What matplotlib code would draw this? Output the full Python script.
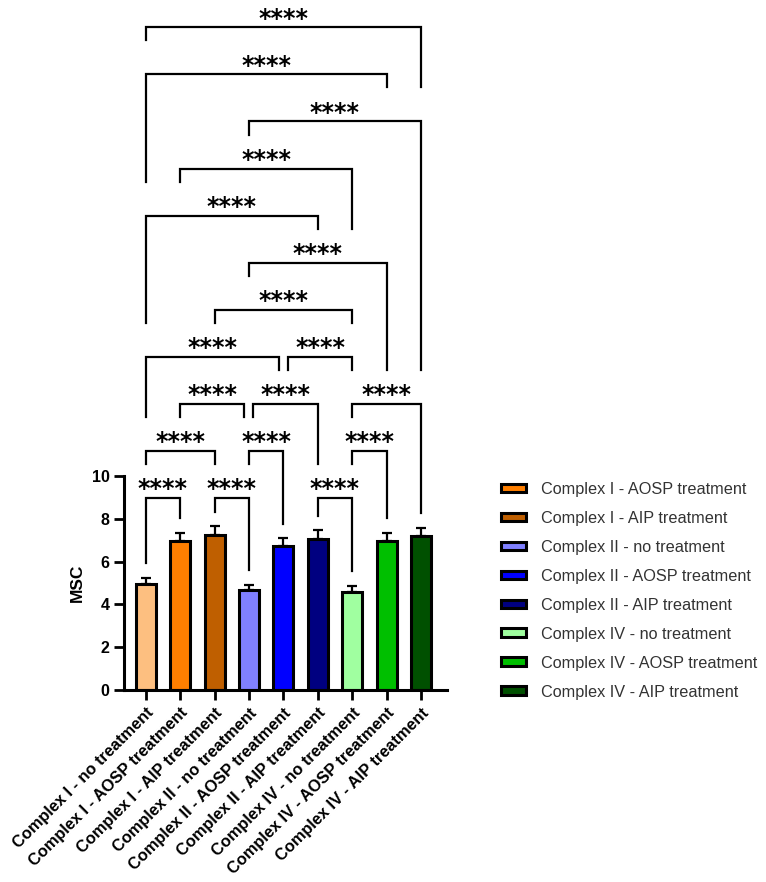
import numpy as np
import matplotlib.pyplot as plt

plt.rcParams['font.family'] = ['Liberation Sans', 'DejaVu Sans']

groups = ["Complex I - no treatment", "Complex I - AOSP treatment", "Complex I - AIP treatment",
          "Complex II - no treatment", "Complex II - AOSP treatment", "Complex II - AIP treatment",
          "Complex IV - no treatment", "Complex IV - AOSP treatment", "Complex IV - AIP treatment"]
msc = [4.95, 6.98, 7.25, 4.65, 6.75, 7.07, 4.6, 6.98, 7.18]
sem = [0.30, 0.37, 0.40, 0.27, 0.33, 0.40, 0.27, 0.37, 0.40]
colors = ["#FDBF80", "#FF7F00", "#BF5F00", "#8080FF", "#0000FF", "#000080",
          "#A0FFA0", "#00BF00", "#005000"]
# comparisons: (left bar, right bar, bracket row), all p < 0.0001
pairs = [(0, 1, 0), (2, 3, 0), (5, 6, 0),
         (0, 2, 1), (3, 4, 1), (6, 7, 1),
         (1, 3, 2), (3, 5, 2), (6, 8, 2),
         (0, 4, 3), (4, 6, 3),
         (2, 6, 4), (3, 7, 5), (0, 5, 6), (1, 6, 7),
         (3, 8, 8), (0, 7, 9), (0, 8, 10)]
signif = ["****"] * len(pairs)

fig = plt.figure(figsize=(7.66, 8.82), dpi=100)
ax = fig.add_axes([0.162, 0.2177, 0.4217, 0.2426])

x = np.arange(len(groups))
handles = []
for i in range(len(groups)):
    b = ax.bar(x[i], msc[i], width=0.58, color=colors[i], edgecolor='black',
               linewidth=2.2, label=groups[i], zorder=2)
    handles.append(b)
ax.errorbar(x, msc, yerr=[np.zeros(len(msc)), sem], fmt='none', ecolor='black',
            elinewidth=1.6, capsize=3.3, capthick=1.6, zorder=1)

ax.set_xlim(-0.63, 8.76)
ax.set_ylim(0, 10)
ax.set_yticks([0, 2, 4, 6, 8, 10])
ax.set_xticks(x)
ax.set_xticklabels(groups, rotation=45, ha='right', rotation_mode='anchor',
                   fontsize=11.8, fontweight='bold')
for lab in ax.get_yticklabels():
    lab.set_fontweight('bold')
    lab.set_fontsize(11.5)
ax.tick_params(axis='both', width=2, length=7, direction='out')
ax.tick_params(axis='x', pad=4)
ax.set_ylabel("MSC", fontsize=12.5, fontweight='bold', labelpad=5)
for s in ['top', 'right']:
    ax.spines[s].set_visible(False)
for s in ['left', 'bottom']:
    ax.spines[s].set_linewidth(2.2)

# significance brackets
base, step = 8.97, 2.2
shift = 0.13
tol = 0.2
counts = {}
for a, b, k in pairs:
    counts[(a, k)] = counts.get((a, k), 0) + 1
    counts[(b, k)] = counts.get((b, k), 0) + 1

spans = []
for a, b, k in pairs:
    xl, xr = float(a), float(b)
    if counts[(a, k)] > 1:
        xl += shift
    if counts[(b, k)] > 1:
        xr -= shift
    spans.append((xl, xr, k))

def leg_end(xp, idx, k):
    ends = [msc[idx] + sem[idx] + 0.67]
    for xl2, xr2, k2 in spans:
        if k2 < k and xl2 - tol <= xp <= xr2 + tol:
            ends.append(base + step * k2 + 1.59)
    return max(ends)

for (a, b, k), (xl, xr, _), txt in zip(pairs, spans, signif):
    yk = base + step * k
    yl = leg_end(xl, a, k)
    yr = leg_end(xr, b, k)
    ax.plot([xl, xl, xr, xr], [yl, yk, yk, yr], color='black', lw=1.6,
            clip_on=False, solid_joinstyle='miter', zorder=3)
    ax.text((xl + xr) / 2, yk + 0.08, txt, ha='center', va='baseline',
            fontsize=17, fontweight='bold', family='DejaVu Sans', clip_on=False)

fig.legend(handles=handles[1:], labels=groups[1:], loc='upper left',
           bbox_to_anchor=(0.643, 0.463), frameon=False, fontsize=11.7,
           handlelength=1.55, handleheight=0.45, handletextpad=0.95,
           labelspacing=0.86, borderpad=0, labelcolor='#333333')

fig.savefig("out.png", dpi=100)
